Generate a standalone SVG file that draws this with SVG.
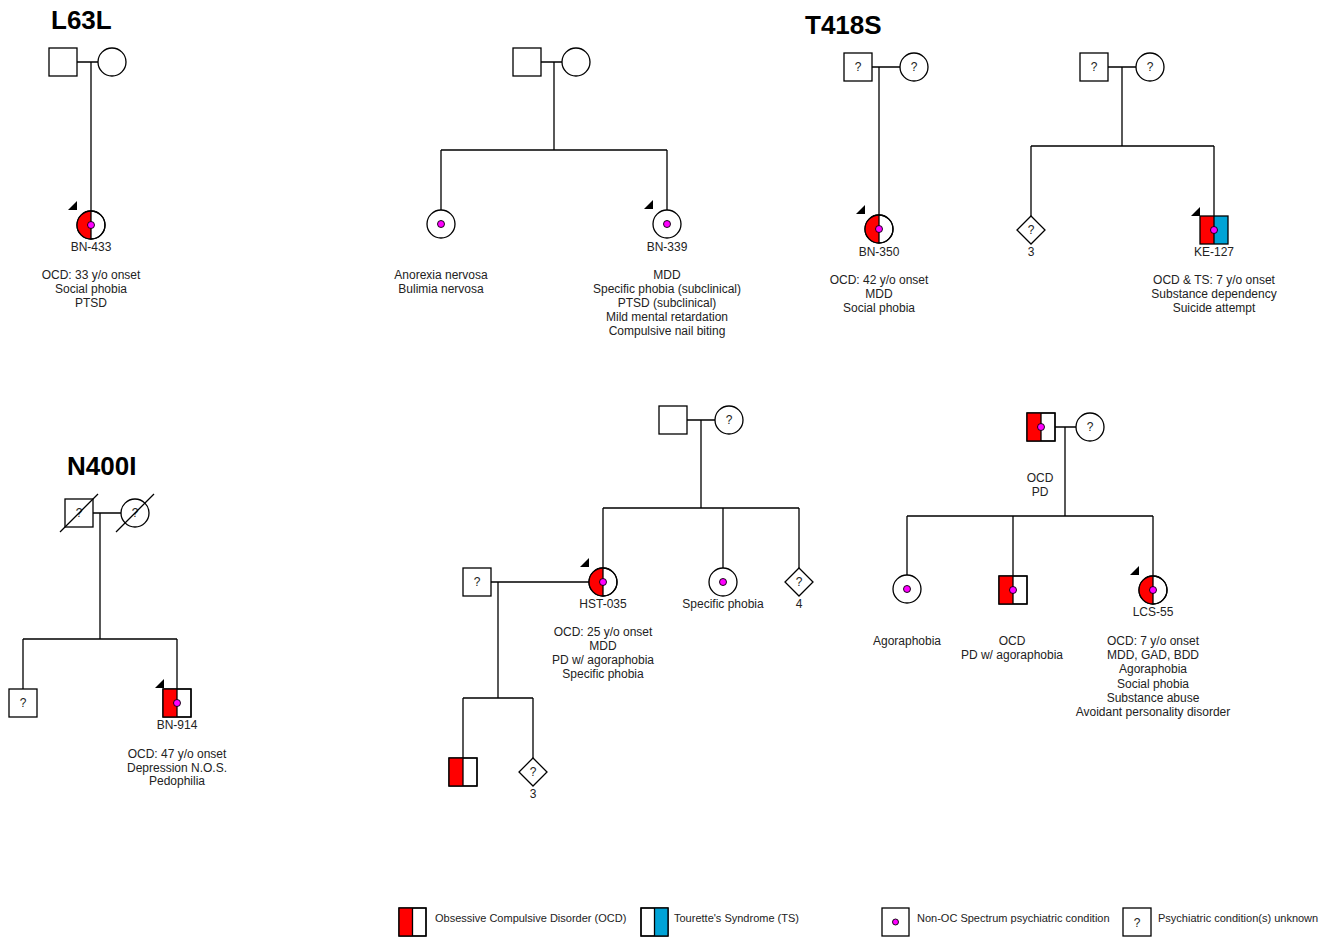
<svg xmlns="http://www.w3.org/2000/svg" width="1334" height="937" viewBox="0 0 1334 937">
<style>
.s{fill:#fff;stroke:#000;stroke-width:1.3}
.o{fill:none;stroke:#000;stroke-width:1.3}
.r{fill:#ff0000;stroke:none}
.b{fill:#00a3d6;stroke:none}
.d{fill:#ff00ff;stroke:#000;stroke-width:0.9}
.ln{stroke:#000;stroke-width:1.3;fill:none}
.ar{fill:#000}
text{font-family:"Liberation Sans",Arial,sans-serif;font-size:12px;fill:#222;text-anchor:middle}
.t{font-size:26px;font-weight:bold;fill:#000;text-anchor:start}
.lg{font-size:11px;text-anchor:start}
</style>
<rect width="1334" height="937" fill="#fff"/>

<g id="titles">
<text class="t" x="51" y="29">L63L</text>
<text class="t" x="805" y="34">T418S</text>
<text class="t" x="67" y="475">N400I</text>
</g>

<g id="connectors" class="ln">
<!-- L63L -->
<path d="M77 62H98M91 62V211"/>
<!-- ped 2 -->
<path d="M541 62H562M554 62V150M441 150H667M441 150V210M667 150V210"/>
<!-- BN-350 -->
<path d="M872 67H900M879 67V215"/>
<!-- KE-127 -->
<path d="M1108 67H1136M1122 67V146M1031 146H1214M1031 146V216M1214 146V216"/>
<!-- N400I -->
<path d="M93 513H121M100 513V639M23 639H177M23 639V689M177 639V689"/>
<!-- HST-035 -->
<path d="M687 420H715M701 420V508M603 508H799M603 508V568M723 508V568M799 508V568"/>
<path d="M491 582H589M498 582V698M463 698H533M463 698V758M533 698V758"/>
<!-- LCS-55 -->
<path d="M1055 427H1076M1065 427V516M907 516H1153M907 516V575M1013 516V576M1153 516V576"/>
</g>

<!-- L63L -->
<g id="L63L-father"><rect class="s" x="49" y="48" width="28" height="28"/></g>
<g id="L63L-mother"><circle class="s" cx="112" cy="62" r="14"/></g>
<g id="BN-433">
<circle class="s" cx="91" cy="225" r="14"/>
<path class="r" d="M91 211A14 14 0 0 0 91 239Z"/>
<circle class="o" cx="91" cy="225" r="14"/>
<path class="ln" d="M91 211V239"/>
<circle class="d" cx="91" cy="225" r="3.5"/>
<polygon class="ar" points="68,210 77,201 77,210"/>
<text x="91" y="251">BN-433</text>
<text x="91" y="279">OCD: 33 y/o onset</text>
<text x="91" y="293">Social phobia</text>
<text x="91" y="307">PTSD</text>
</g>

<!-- Pedigree 2 -->
<g id="P2-father"><rect class="s" x="513" y="48" width="28" height="28"/></g>
<g id="P2-mother"><circle class="s" cx="576" cy="62" r="14"/></g>
<g id="P2-sister">
<circle class="s" cx="441" cy="224" r="14"/>
<circle class="d" cx="441" cy="224" r="3.5"/>
<text x="441" y="279">Anorexia nervosa</text>
<text x="441" y="293">Bulimia nervosa</text>
</g>
<g id="BN-339">
<circle class="s" cx="667" cy="224" r="14"/>
<circle class="d" cx="667" cy="224" r="3.5"/>
<polygon class="ar" points="644,209 653,200 653,209"/>
<text x="667" y="251">BN-339</text>
<text x="667" y="279">MDD</text>
<text x="667" y="293">Specific phobia (subclinical)</text>
<text x="667" y="307">PTSD (subclinical)</text>
<text x="667" y="321">Mild mental retardation</text>
<text x="667" y="335">Compulsive nail biting</text>
</g>

<!-- BN-350 -->
<g id="P3-father"><rect class="s" x="844" y="53" width="28" height="28"/><text x="858" y="71">?</text></g>
<g id="P3-mother"><circle class="s" cx="914" cy="67" r="14"/><text x="914" y="71">?</text></g>
<g id="BN-350">
<circle class="s" cx="879" cy="229" r="14"/>
<path class="r" d="M879 215A14 14 0 0 0 879 243Z"/>
<circle class="o" cx="879" cy="229" r="14"/>
<path class="ln" d="M879 215V243"/>
<circle class="d" cx="879" cy="229" r="3.5"/>
<polygon class="ar" points="856,214 865,205 865,214"/>
<text x="879" y="256">BN-350</text>
<text x="879" y="284">OCD: 42 y/o onset</text>
<text x="879" y="298">MDD</text>
<text x="879" y="312">Social phobia</text>
</g>

<!-- KE-127 -->
<g id="P4-father"><rect class="s" x="1080" y="53" width="28" height="28"/><text x="1094" y="71">?</text></g>
<g id="P4-mother"><circle class="s" cx="1150" cy="67" r="14"/><text x="1150" y="71">?</text></g>
<g id="P4-siblings">
<polygon class="s" points="1031,216 1045,230 1031,244 1017,230"/>
<text x="1031" y="234">?</text>
<text x="1031" y="256">3</text>
</g>
<g id="KE-127">
<rect class="r" x="1200" y="216" width="14" height="28"/>
<rect class="b" x="1214" y="216" width="14" height="28"/>
<rect class="o" x="1200" y="216" width="28" height="28"/>
<path class="ln" d="M1214 216V244"/>
<circle class="d" cx="1214" cy="230" r="3.5"/>
<polygon class="ar" points="1191,216 1200,207 1200,216"/>
<text x="1214" y="256">KE-127</text>
<text x="1214" y="284">OCD &amp; TS: 7 y/o onset</text>
<text x="1214" y="298">Substance dependency</text>
<text x="1214" y="312">Suicide attempt</text>
</g>

<!-- N400I -->
<g id="N400I-father">
<rect class="s" x="65" y="499" width="28" height="28"/>
<text x="79" y="517">?</text>
<path class="ln" d="M60 532L98 494"/>
</g>
<g id="N400I-mother">
<circle class="s" cx="135" cy="513" r="14"/>
<text x="135" y="517">?</text>
<path class="ln" d="M116 532L154 494"/>
</g>
<g id="N400I-brother">
<rect class="s" x="9" y="689" width="28" height="28"/>
<text x="23" y="707">?</text>
</g>
<g id="BN-914">
<rect class="s" x="163" y="689" width="28" height="28"/>
<rect class="r" x="163" y="689" width="14" height="28"/>
<rect class="o" x="163" y="689" width="28" height="28"/>
<path class="ln" d="M177 689V717"/>
<circle class="d" cx="177" cy="703" r="3.5"/>
<polygon class="ar" points="155,688 164,679 164,688"/>
<text x="177" y="729">BN-914</text>
<text x="177" y="758">OCD: 47 y/o onset</text>
<text x="177" y="772">Depression N.O.S.</text>
<text x="177" y="785">Pedophilia</text>
</g>

<!-- HST-035 -->
<g id="HST-father"><rect class="s" x="659" y="406" width="28" height="28"/></g>
<g id="HST-mother"><circle class="s" cx="729" cy="420" r="14"/><text x="729" y="424">?</text></g>
<g id="HST-035">
<circle class="s" cx="603" cy="582" r="14"/>
<path class="r" d="M603 568A14 14 0 0 0 603 596Z"/>
<circle class="o" cx="603" cy="582" r="14"/>
<path class="ln" d="M603 568V596"/>
<circle class="d" cx="603" cy="582" r="3.5"/>
<polygon class="ar" points="580,567 589,558 589,567"/>
<text x="603" y="608">HST-035</text>
<text x="603" y="636">OCD: 25 y/o onset</text>
<text x="603" y="650">MDD</text>
<text x="603" y="664">PD w/ agoraphobia</text>
<text x="603" y="678">Specific phobia</text>
</g>
<g id="HST-sister">
<circle class="s" cx="723" cy="582" r="14"/>
<circle class="d" cx="723" cy="582" r="3.5"/>
<text x="723" y="608">Specific phobia</text>
</g>
<g id="HST-siblings">
<polygon class="s" points="799,568 813,582 799,596 785,582"/>
<text x="799" y="586">?</text>
<text x="799" y="608">4</text>
</g>
<g id="HST-spouse">
<rect class="s" x="463" y="568" width="28" height="28"/>
<text x="477" y="586">?</text>
</g>
<g id="HST-son">
<rect class="s" x="449" y="758" width="28" height="28"/>
<rect class="r" x="449" y="758" width="14" height="28"/>
<rect class="o" x="449" y="758" width="28" height="28"/>
<path class="ln" d="M463 758V786"/>
</g>
<g id="HST-children">
<polygon class="s" points="533,758 547,772 533,786 519,772"/>
<text x="533" y="776">?</text>
<text x="533" y="798">3</text>
</g>

<!-- LCS-55 -->
<g id="LCS-father">
<rect class="s" x="1027" y="413" width="28" height="28"/>
<rect class="r" x="1027" y="413" width="14" height="28"/>
<rect class="o" x="1027" y="413" width="28" height="28"/>
<path class="ln" d="M1041 413V441"/>
<circle class="d" cx="1041" cy="427" r="3.5"/>
<text x="1040" y="482">OCD</text>
<text x="1040" y="496">PD</text>
</g>
<g id="LCS-mother"><circle class="s" cx="1090" cy="427" r="14"/><text x="1090" y="431">?</text></g>
<g id="LCS-sister">
<circle class="s" cx="907" cy="589" r="14"/>
<circle class="d" cx="907" cy="589" r="3.5"/>
<text x="907" y="645">Agoraphobia</text>
</g>
<g id="LCS-brother">
<rect class="s" x="999" y="576" width="28" height="28"/>
<rect class="r" x="999" y="576" width="14" height="28"/>
<rect class="o" x="999" y="576" width="28" height="28"/>
<path class="ln" d="M1013 576V604"/>
<circle class="d" cx="1013" cy="590" r="3.5"/>
<text x="1012" y="645">OCD</text>
<text x="1012" y="659">PD w/ agoraphobia</text>
</g>
<g id="LCS-55">
<circle class="s" cx="1153" cy="590" r="14"/>
<path class="r" d="M1153 576A14 14 0 0 0 1153 604Z"/>
<circle class="o" cx="1153" cy="590" r="14"/>
<path class="ln" d="M1153 576V604"/>
<circle class="d" cx="1153" cy="590" r="3.5"/>
<polygon class="ar" points="1130,575 1139,566 1139,575"/>
<text x="1153" y="616">LCS-55</text>
<text x="1153" y="645">OCD: 7 y/o onset</text>
<text x="1153" y="659">MDD, GAD, BDD</text>
<text x="1153" y="673">Agoraphobia</text>
<text x="1153" y="688">Social phobia</text>
<text x="1153" y="702">Substance abuse</text>
<text x="1153" y="716">Avoidant personality disorder</text>
</g>

<!-- Legend -->
<g id="legend">
<rect class="s" x="399" y="908" width="27" height="28"/>
<rect class="r" x="399" y="908" width="13.5" height="28"/>
<rect class="o" x="399" y="908" width="27" height="28"/>
<path class="ln" d="M412.5 908V936"/>
<text class="lg" x="435" y="922">Obsessive Compulsive Disorder (OCD)</text>
<rect class="s" x="641" y="908" width="27" height="28"/>
<rect class="b" x="654.5" y="908" width="13.5" height="28"/>
<rect class="o" x="641" y="908" width="27" height="28"/>
<path class="ln" d="M654.5 908V936"/>
<text class="lg" x="674" y="922">Tourette's Syndrome (TS)</text>
<rect class="s" x="882" y="908" width="27" height="28"/>
<circle class="d" cx="895.5" cy="922" r="3"/>
<text class="lg" x="917" y="922">Non-OC Spectrum psychiatric condition</text>
<rect class="s" x="1123" y="908" width="28" height="28"/>
<text x="1137" y="927">?</text>
<text class="lg" x="1158" y="922">Psychiatric condition(s) unknown</text>
</g>
</svg>
